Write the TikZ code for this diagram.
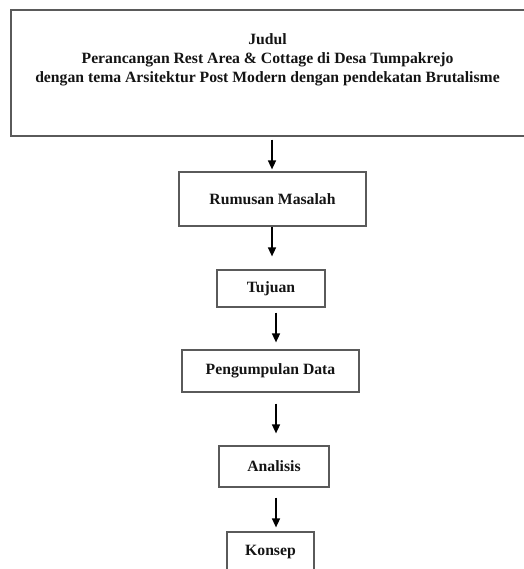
\documentclass[tikz,border=0pt]{standalone}
\usepackage{fontspec}
\setmainfont{Liberation Serif}
\usetikzlibrary{arrows.meta}
\definecolor{boxgray}{HTML}{5A5A5A}
\definecolor{ink}{HTML}{141414}
\tikzset{
  box/.style={draw=boxgray, line width=1.2pt, rectangle, inner sep=0pt,
    font=\fontsize{15.7}{19}\selectfont\bfseries, text=ink},
  arr/.style={draw=black, line width=1.5pt, -{Triangle[length=9pt,width=8pt]}},
}
\begin{document}
\begin{tikzpicture}[x=1pt,y=-1pt]
\useasboundingbox (0,0) rectangle (523,569);
% boxes
\node[box, minimum width=516pt, minimum height=126pt] (judulbox) at (269,73) {};
\node[box, anchor=north, align=center, draw=none] (judul) at (267.5,33)
  {Judul\\Perancangan Rest Area \& Cottage di Desa Tumpakrejo\\dengan tema Arsitektur Post Modern dengan pendekatan Brutalisme};
\node[box, minimum width=187pt, minimum height=54pt] (rumusan) at (272.5,199) {Rumusan Masalah};
\node[box, minimum width=108pt, minimum height=37pt] (tujuan) at (271,288.5) {Tujuan};
\node[box, minimum width=177pt, minimum height=42pt] (data) at (270.5,371) {Pengumpulan Data};
\node[box, minimum width=110pt, minimum height=41pt] (analisis) at (274,466.5) {Analisis};
\node[box, minimum width=87pt, minimum height=40pt] (konsep) at (270.5,552) {Konsep};
% arrow columns
\coordinate (ca) at (272,0);
\coordinate (cb) at (276,0);
\draw[arr, shorten <=3pt, shorten >=2pt] (judulbox.south -| ca) -- (rumusan.north -| ca);
\draw[arr, shorten <=0.5pt, shorten >=13pt] (rumusan.south -| ca) -- (tujuan.north -| ca);
\draw[arr, shorten <=5pt, shorten >=7pt] (tujuan.south -| cb) -- (data.north -| cb);
\draw[arr, shorten <=11pt, shorten >=12pt] (data.south -| cb) -- (analisis.north -| cb);
\draw[arr, shorten <=10pt, shorten >=4pt] (analisis.south -| cb) -- (konsep.north -| cb);
\end{tikzpicture}
\end{document}
